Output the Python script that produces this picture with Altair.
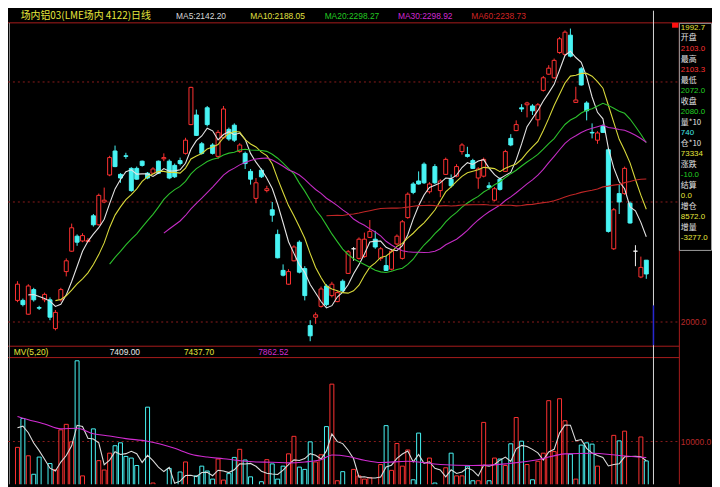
import altair as alt
import pandas as pd

# ---------------- values ----------------
opens = [2036, 2036, 2013, 2054, 2024, 2037, 2037, 1989, 2037, 2084,
         2118, 2143, 2135, 2134, 2177, 2162, 2200, 2245, 2285, 2246,
         2277, 2256, 2256, 2268, 2248, 2248, 2268, 2272, 2268, 2261,
         2269, 2281, 2329, 2345, 2297, 2357, 2295, 2276, 2307, 2321,
         2328, 2284, 2281, 2251, 2206, 2253, 2219, 2187, 2146, 2086,
         2063, 2102, 2133, 2089, 1994, 2008, 2026, 2060, 2044, 2034,
         2068, 2081, 2122, 2106, 2109, 2141, 2138, 2106, 2094, 2088,
         2130, 2106, 2174, 2230, 2235, 2263, 2217, 2259, 2219, 2246,
         2238, 2243, 2284, 2279, 2269, 2240, 2243, 2227, 2203, 2238,
         2251, 2306, 2319, 2357, 2362, 2360, 2337, 2386, 2413, 2407,
         2449, 2446, 2478, 2366, 2422, 2365, 2316, 2303, 2326, 2287,
         2122, 2214, 2214, 2198, 2118, 2075, 2103]
closes = [2063, 2029, 2060, 2037, 2023, 2046, 2008, 2016, 2054, 2102,
          2157, 2133, 2144, 2136, 2162, 2211, 2203, 2274, 2259, 2240,
          2276, 2219, 2238, 2261, 2240, 2255, 2248, 2274, 2240, 2242,
          2264, 2303, 2391, 2311, 2281, 2329, 2281, 2316, 2355, 2305,
          2303, 2295, 2264, 2238, 2232, 2242, 2222, 2178, 2107, 2078,
          2084, 2125, 2083, 2044, 1977, 2012, 2055, 2029, 2063, 2049,
          2052, 2117, 2122, 2138, 2138, 2151, 2125, 2122, 2086, 2118,
          2143, 2167, 2213, 2216, 2230, 2232, 2230, 2232, 2235, 2271,
          2227, 2259, 2295, 2276, 2256, 2255, 2271, 2224, 2222, 2221,
          2284, 2295, 2329, 2355, 2365, 2352, 2362, 2407, 2423, 2436,
          2472, 2483, 2443, 2370, 2395, 2352, 2315, 2315, 2316, 2151,
          2187, 2200, 2256, 2165, 2118, 2091, 2080]
highs = [2068, 2039, 2063, 2057, 2027, 2049, 2041, 2020, 2057, 2106,
         2164, 2146, 2148, 2140, 2180, 2214, 2224, 2277, 2294, 2248,
         2282, 2258, 2259, 2269, 2250, 2258, 2269, 2281, 2271, 2264,
         2274, 2307, 2392, 2354, 2300, 2360, 2298, 2320, 2360, 2324,
         2331, 2298, 2284, 2255, 2240, 2256, 2227, 2200, 2154, 2096,
         2088, 2128, 2136, 2093, 2003, 2016, 2059, 2063, 2067, 2052,
         2071, 2120, 2125, 2141, 2149, 2170, 2152, 2125, 2110, 2122,
         2146, 2170, 2216, 2233, 2251, 2266, 2233, 2263, 2238, 2274,
         2246, 2263, 2298, 2292, 2272, 2258, 2274, 2233, 2225, 2241,
         2287, 2313, 2336, 2363, 2367, 2363, 2365, 2410, 2428, 2439,
         2475, 2486, 2489, 2392, 2425, 2368, 2331, 2318, 2329, 2290,
         2190, 2230, 2259, 2201, 2128, 2109, 2103.3]
lows = [2033, 2026, 2012, 2034, 2020, 2033, 2003, 1986, 2034, 2076,
        2117, 2127, 2133, 2133, 2159, 2161, 2198, 2243, 2258, 2232,
        2272, 2217, 2237, 2259, 2238, 2247, 2247, 2268, 2238, 2240,
        2261, 2279, 2328, 2310, 2279, 2326, 2279, 2272, 2305, 2302,
        2300, 2282, 2255, 2229, 2198, 2240, 2216, 2167, 2106, 2076,
        2062, 2101, 2081, 2036, 1968, 1997, 2024, 2026, 2041, 2033,
        2049, 2080, 2102, 2104, 2107, 2140, 2122, 2102, 2085, 2086,
        2128, 2104, 2172, 2213, 2229, 2230, 2214, 2230, 2208, 2245,
        2224, 2241, 2279, 2274, 2255, 2222, 2241, 2221, 2201, 2219,
        2250, 2293, 2318, 2350, 2341, 2345, 2326, 2384, 2412, 2405,
        2447, 2444, 2441, 2365, 2394, 2336, 2306, 2297, 2315, 2149,
        2120, 2180, 2212, 2164, 2093, 2073, 2072]
volumes = [9223, 13077, 8097, 5629, 7924, 3500, 7058, 6235, 11561, 12297,
           9959, 20784, 5413, 3800, 11691, 7448, 6192, 8444, 9439, 9829,
           8010, 7794, 6798, 3600, 14592, 4460, 3500, 3800, 6408, 3900,
           5932, 7274, 4000, 5413, 6712, 6062, 4980, 7664, 4850, 5716,
           7881, 8963, 7534, 5283, 3800, 4633, 7578, 7015, 4980, 6712,
           8357, 10695, 6582, 6279, 9959, 7274, 8227, 11994, 17666, 4763,
           5975, 3800, 6279, 5413, 4980, 5196, 3800, 6928, 12124, 6149,
           9743, 6712, 8877, 4893, 11128, 3800, 7794, 4460, 3900, 6495,
           8444, 5413, 5413, 6712, 4763, 4763, 12557, 4763, 7794, 7664,
           6798, 9699, 13207, 10046, 6928, 4893, 7361, 8444, 15458, 8660,
           15718, 12774, 8314, 4980, 9526, 9829, 9656, 6712, 3700, 3800,
           10825, 10089, 11388, 3900, 3900, 10608, 7409]
# sessions just before the first visible one (only feed the moving averages)
warmup_closes = [2034, 2040]
warmup_volumes = [12000, 12500, 12500, 13000]
# 20-day volume average
mv20_index = [0, 1, 5, 8, 11, 14, 17, 20, 24, 29, 32, 35, 38, 41, 44, 47,
              50, 53, 56, 58, 61, 64, 67, 72, 78, 84, 90, 96, 101, 106, 111, 116]
mv20_values = [13336, 13120, 12340, 11690, 11778, 11040, 10738, 10392, 10046, 9093,
               8314, 7924, 7707, 7448, 7274, 7231, 7144, 7274, 7578, 8200, 8010,
               7500, 7200, 7360, 6930, 6800, 7015, 7578, 8357, 8444, 8140, 7862]
price_grid = [2000, 2200, 2400]
price_ticks = [2000]
volume_grid = [10000]
volume_ticks = [10000]
ma_periods = [5, 10, 20, 30, 60]
ma_texts = ["MA5:2142.20", "MA10:2188.05", "MA20:2298.27", "MA30:2298.92", "MA60:2238.73"]
mv_texts = ["MV(5,20)", "7409.00", "7437.70", "7862.52"]
title_text = "场内铝03(LME场内 4122)日线"
info_labels = ["开盘", "最高", "最低", "收盘", "量*10", "仓*10", "涨跌", "结算", "增仓", "增量"]
info_values = ["2103.0", "2103.3", "2072.0", "2080.0", "740", "73334", "-10.0", "0.0", "8572.0", "-3277.0"]
cursor_price = "1992.7"

# ---------------- styles / layout ----------------
RED = "#ff3232"
CYAN = "#48f4f4"
WHITE = "#f0f0f0"
GRID = "#8c1c1c"
FRAME = "#a81c1c"
YEL = "#e6e63c"
GRN = "#22d022"
MAG = "#d22cd2"
MA_COLORS = ["#e4e4e4", "#d8d83a", "#2cc02c", "#c42cc4", "#c02626"]
HEAD_COLORS = ["#d8d8d8", "#e0e040", "#22c822", "#d028d0", "#d02424"]
HEAD_X = [172, 248, 324, 399, 474]
MV_COLORS = [YEL, "#e8e8e8", YEL, MAG]
MV_X = [6, 104, 180, 256]
VAL_COLORS = [RED, RED, GRN, GRN, "#40e8e8", YEL, GRN, YEL, YEL, YEL]
CJK = "Noto Sans CJK SC"
NUM = "Liberation Sans"

W, H = 679, 479
REF_W, REF_H = 687.0, 487.0
SX, SY = W / REF_W, H / REF_H
C0, CSTEP = 4.7, 5.63                     # candle centre spacing in reference px
XMIN, XMAX = (0 - C0) / CSTEP, (REF_W - C0) / CSTEP
PTOP, PPX = 2518.8, 1.6207                # price at top edge, price per px
PMIN, PMAX = PTOP - PPX * REF_H, PTOP
VBASE, VPX = 520.0, 129.9                 # volume zero row, volume per px
VMIN, VMAX = VPX * (VBASE - REF_H), VPX * VBASE


def px(X):
    return X * SX if X <= REF_W else W + (X - REF_W)


def py(Y):
    return Y * SY


n = len(opens)
main = pd.DataFrame({"idx": list(range(n)), "open": opens, "close": closes,
                     "high": highs, "low": lows, "vol": volumes})
nw = len(warmup_volumes)
warm = pd.DataFrame({"idx": list(range(-nw, 0)),
                     "close": [None] * (nw - len(warmup_closes)) + warmup_closes,
                     "vol": warmup_volumes})
full = pd.concat([warm, main], ignore_index=True)
mv20 = pd.DataFrame({"idx": mv20_index, "mv20": mv20_values})
one = pd.DataFrame({"k": [0]})

xenc = alt.X("idx:Q", scale=alt.Scale(domain=[XMIN, XMAX], nice=False, zero=False), axis=None)
pscale = alt.Scale(domain=[PMIN, PMAX], nice=False, zero=False)
vscale = alt.Scale(domain=[VMIN, VMAX], nice=False, zero=False)
dir_stroke = alt.Scale(domain=["up", "down", "flat"], range=[RED, CYAN, WHITE])
dir_fill = alt.Scale(domain=["up", "down", "flat"], range=["#000000", CYAN, WHITE])


def hline(Y, X1, X2, color, dash=None, width=1.0):
    kw = dict(color=color, strokeWidth=width)
    if dash:
        kw["strokeDash"] = dash
    return alt.Chart(one).mark_rule(**kw).encode(
        x=alt.value(px(X1)), x2=alt.value(px(X2)), y=alt.value(py(Y)))


def vline(X, Y1, Y2, color, width=1.0):
    return alt.Chart(one).mark_rule(color=color, strokeWidth=width).encode(
        x=alt.value(px(X)), y=alt.value(py(Y1)), y2=alt.value(py(Y2)))


def label(text, X, Y, color, size=9, font=NUM, align="left"):
    return alt.Chart(one).mark_text(align=align, baseline="middle", color=color,
                                    fontSize=size, font=font).encode(
        x=alt.value(px(X)), y=alt.value(py(Y)), text=alt.value(text))


layers = []
# frame lines
layers += [hline(12.5, 0, 720, FRAME), hline(345, 0, 687, FRAME), hline(356.7, 0, 687, FRAME),
           vline(1.5, 12.5, 487, "#8a8a8a"), vline(687, 12.5, 487, FRAME)]

# dashed grid
layers.append(alt.Chart(pd.DataFrame({"p": price_grid})).mark_rule(color=GRID, strokeDash=[2, 3]).encode(
    y=alt.Y("p:Q", scale=pscale, axis=None), x=alt.value(0), x2=alt.value(W)))
layers.append(alt.Chart(pd.DataFrame({"v": volume_grid})).mark_rule(color=GRID, strokeDash=[2, 3]).encode(
    y=alt.Y("v:Q", scale=vscale, axis=None), x=alt.value(0), x2=alt.value(W)))

base = alt.Chart(full).transform_filter("datum.idx >= 0").transform_calculate(
    dir="datum.close > datum.open ? 'up' : (datum.close < datum.open ? 'down' : 'flat')",
    vdir="datum.close >= datum.open ? 'up' : 'down'",
    vbase="0")

# volume bars
layers.append(base.mark_bar(size=4, fill="#000000", strokeWidth=1, clip=True).encode(
    x=xenc, y=alt.Y("vol:Q", scale=vscale, axis=None), y2="vbase:Q",
    stroke=alt.Stroke("vdir:N", scale=dir_stroke, legend=None)))

# volume averages
layers.append(alt.Chart(full).transform_window(
    mv5="mean(vol)", cnt="valid(vol)", frame=[-4, 0], sort=[{"field": "idx"}]
).transform_filter("datum.idx >= 0 && datum.cnt == 5").mark_line(
    color="#dcdcdc", strokeWidth=1.1, clip=True).encode(
    x=xenc, y=alt.Y("mv5:Q", scale=vscale, axis=None)))
layers.append(alt.Chart(mv20).mark_line(color=MAG, strokeWidth=1.1, interpolate="monotone", clip=True).encode(
    x=xenc, y=alt.Y("mv20:Q", scale=vscale, axis=None)))

# cursor line
layers += [vline(660.5, 0, 487, "#d8d8d8"), vline(660.5, 303, 344, "#2828d0", 1.5)]

# candles
layers.append(base.mark_rule(strokeWidth=1).encode(
    x=xenc, y=alt.Y("low:Q", scale=pscale, axis=None), y2="high:Q",
    color=alt.Color("dir:N", scale=dir_stroke, legend=None)))
layers.append(base.mark_bar(size=4, strokeWidth=1).encode(
    x=xenc, y=alt.Y("open:Q", scale=pscale, axis=None), y2="close:Q",
    fill=alt.Fill("dir:N", scale=dir_fill, legend=None),
    stroke=alt.Stroke("dir:N", scale=dir_stroke, legend=None)))

# price moving averages
for per, col in zip(ma_periods, MA_COLORS):
    layers.append(alt.Chart(full).transform_window(
        ma="mean(close)", cnt="valid(close)", frame=[-(per - 1), 0], sort=[{"field": "idx"}]
    ).transform_filter(f"datum.idx >= 0 && datum.cnt == {per}").mark_line(
        color=col, strokeWidth=1.1).encode(
        x=xenc, y=alt.Y("ma:Q", scale=pscale, axis=None)))

# right-hand scale labels
layers.append(alt.Chart(pd.DataFrame({"p": price_ticks})).mark_text(
    align="left", baseline="middle", color="#b82828", fontSize=8.5, font=NUM).encode(
    y=alt.Y("p:Q", scale=pscale, axis=None), x=alt.value(px(688.5)), text=alt.Text("p:Q", format=".1f")))
layers.append(alt.Chart(pd.DataFrame({"v": volume_ticks})).mark_text(
    align="left", baseline="middle", color="#b82828", fontSize=8.5, font=NUM).encode(
    y=alt.Y("v:Q", scale=vscale, axis=None), x=alt.value(px(688.5)), text=alt.Text("v:Q", format=".1f")))

# info panel
layers.append(alt.Chart(one).mark_rect(fill="#000000", stroke="#a0a0a0", strokeWidth=1).encode(
    x=alt.value(px(687)), x2=alt.value(px(719.5)), y=alt.value(py(13)), y2=alt.value(py(246.5))))
layers.append(alt.Chart(one).mark_rect(fill="#ff1010").encode(
    x=alt.value(px(679.5)), x2=alt.value(px(686)), y=alt.value(py(12.5)), y2=alt.value(py(17.5))))
layers.append(label(cursor_price, 688.5, 18, YEL, 8))
for k, (lab, val, vc) in enumerate(zip(info_labels, info_values, VAL_COLORS)):
    ylab = 28.6 + k * 21.65
    layers.append(label(lab, 688.5, ylab, "#e0e0e0", 8, CJK))
    layers.append(label(val, 688.5, ylab + 10.8, vc, 8))

# header texts
layers.append(label(title_text, 13, 6, YEL, 10, CJK))
for t, c, X in zip(ma_texts, HEAD_COLORS, HEAD_X):
    layers.append(label(t, X, 6, c, 8.5))
for t, c, X in zip(mv_texts, MV_COLORS, MV_X):
    layers.append(label(t, X, 350.8, c, 8.5))

chart = alt.layer(*layers).resolve_scale(y="independent").properties(
    width=W, height=H,
    padding={"left": 0, "top": 0, "right": 720 - 8 - W, "bottom": 0},
    autosize=alt.AutoSizeParams(type="none"),
).configure(background="#000000").configure_view(stroke=None)

chart.save("out.html", embed_options={"renderer": "svg", "actions": False})
